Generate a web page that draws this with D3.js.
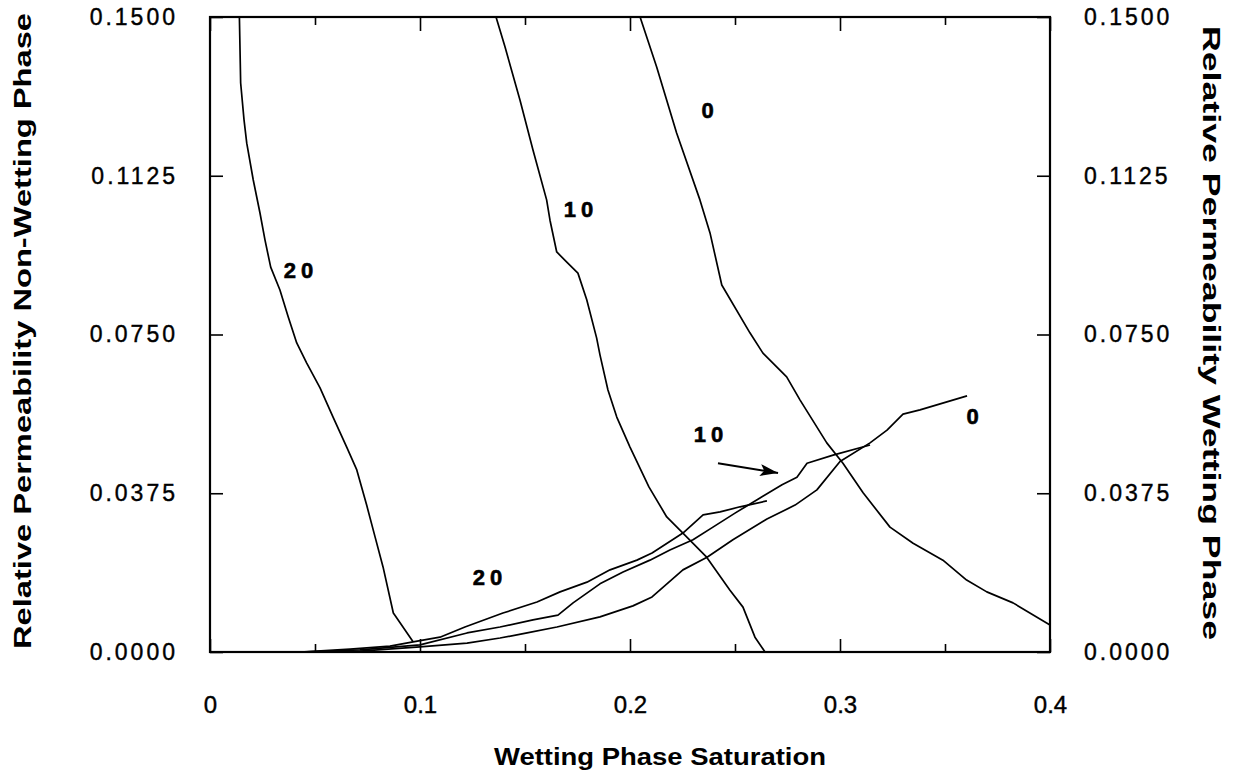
<!DOCTYPE html>
<html>
<head>
<meta charset="utf-8">
<script src="https://cdn.jsdelivr.net/npm/d3@7"></script>
<style>
  html, body { margin: 0; padding: 0; background: #fff; }
  svg { display: block; }
  text { font-family: "Liberation Sans", Arial, Helvetica, sans-serif; fill: #000; }
</style>
</head>
<body>
<svg id="chart" width="1240" height="774"></svg>
<script>
// ---- Data (Sw, kr) ----
const xTicksMajor = [0, 0.1, 0.2, 0.3, 0.4];
const xTickLabels = ["0", "0.1", "0.2", "0.3", "0.4"];
const xTicksMinor = [0.05, 0.15, 0.25, 0.35];
const yTicks = [0, 0.0375, 0.075, 0.1125, 0.15];
const yTickLabels = ["0.0000", "0.0375", "0.0750", "0.1125", "0.1500"];

// Non-wetting phase relative permeability (left axis)
const nw20 = [[0.0140,0.15],[0.0146,0.1344],[0.0162,0.1257],[0.0175,0.1202],[0.0206,0.1115],[0.0238,0.1037],[0.0262,0.0973],[0.0289,0.0909],[0.0333,0.0855],[0.0373,0.0791],[0.0413,0.0730],[0.0460,0.0683],[0.0524,0.0624],[0.0586,0.0555],[0.0651,0.0484],[0.0699,0.0430],[0.0746,0.0347],[0.0786,0.0272],[0.0824,0.0201],[0.0873,0.0092],[0.0905,0.0069],[0.0967,0.0024]];
const nw10 = [[0.1362,0.15],[0.1405,0.1429],[0.1476,0.1304],[0.1538,0.1186],[0.1603,0.1068],[0.1619,0.1020],[0.1651,0.0945],[0.1699,0.0921],[0.1752,0.0895],[0.1794,0.0832],[0.1841,0.0742],[0.1857,0.0702],[0.1895,0.0619],[0.1937,0.0555],[0.2000,0.0484],[0.2090,0.0390],[0.2175,0.0319],[0.2252,0.0281],[0.2365,0.0224],[0.2476,0.0146],[0.2538,0.0106],[0.2595,0.0035],[0.2643,0.0]];
const nw0 = [[0.2048,0.15],[0.2127,0.1382],[0.2222,0.1226],[0.2333,0.1068],[0.2381,0.0990],[0.2437,0.0867],[0.2571,0.0754],[0.2633,0.0706],[0.2746,0.0650],[0.2810,0.0595],[0.2937,0.0494],[0.3014,0.0446],[0.3110,0.0376],[0.3238,0.0295],[0.3348,0.0257],[0.3490,0.0217],[0.3603,0.0170],[0.3699,0.0142],[0.3824,0.0116],[0.4000,0.0064]];

// Wetting phase relative permeability (right axis)
const w20 = [[0.0429,0.0],[0.0667,0.0007],[0.0857,0.0014],[0.0967,0.0024],[0.1095,0.0035],[0.1214,0.0059],[0.1395,0.0092],[0.1557,0.0118],[0.1667,0.0142],[0.1795,0.0165],[0.1905,0.0194],[0.2033,0.0217],[0.2105,0.0234],[0.2252,0.0281],[0.2348,0.0324],[0.2429,0.0331],[0.2524,0.0343],[0.2652,0.0357]];
const w10 = [[0.0429,0.0],[0.0714,0.0005],[0.1000,0.0017],[0.1224,0.0045],[0.1381,0.0059],[0.1538,0.0076],[0.1657,0.0087],[0.1729,0.0116],[0.1857,0.0161],[0.1967,0.0189],[0.2095,0.0217],[0.2190,0.0241],[0.2300,0.0265],[0.2395,0.0295],[0.2500,0.0328],[0.2619,0.0364],[0.2724,0.0395],[0.2795,0.0413],[0.2843,0.0446],[0.2967,0.0465],[0.3143,0.0489]];
const w0 = [[0.0429,0.0],[0.0714,0.0002],[0.1000,0.0012],[0.1224,0.0021],[0.1381,0.0033],[0.1510,0.0045],[0.1652,0.0059],[0.1857,0.0083],[0.2014,0.0109],[0.2105,0.0130],[0.2252,0.0194],[0.2367,0.0224],[0.2490,0.0265],[0.2652,0.0314],[0.2786,0.0347],[0.2890,0.0383],[0.3000,0.0450],[0.3143,0.0494],[0.3224,0.0524],[0.3300,0.0562],[0.3381,0.0572],[0.3605,0.0605]];

// Curve labels: [text, Sw, kr]
const curveLabels = [["20",0.0433,0.0902],["10",0.1767,0.1046],["0",0.2381,0.1278],["20",0.1333,0.0175],["10",0.2386,0.0513],["0",0.3643,0.0557]];
const arrowFrom = [0.2419,0.0446];
const arrowTo = [0.2705,0.0423];

// ---- Layout ----
const svg = d3.select("#chart");
const L = 210, R = 1050, T = 17, B = 652;
const x = d3.scaleLinear().domain([0, 0.4]).range([L, R]);
const yL = d3.scaleLinear().domain([0, 0.15]).range([B, T]);
const yR = d3.scaleLinear().domain([0, 0.15]).range([B, T]);

// Frame
svg.append("rect").attr("x", L).attr("y", T).attr("width", R - L).attr("height", B - T)
  .attr("fill", "none").attr("stroke", "#000").attr("stroke-width", 2.2);

const tickFont = "'Liberation Sans', Arial, sans-serif";

// Bottom axis (inward ticks)
const axB = svg.append("g").attr("transform", `translate(0,${B})`)
  .call(d3.axisBottom(x).tickValues(xTicksMajor).tickSize(-13).tickPadding(44)
    .tickFormat((d, i) => xTickLabels[i]));
axB.select(".domain").remove();
axB.selectAll("line").attr("stroke-width", 1.6);
axB.selectAll("text").attr("font-size", 24).attr("stroke", "#000").attr("stroke-width", 0.4)
  .style("font-family", tickFont);
const axBm = svg.append("g").attr("transform", `translate(0,${B})`)
  .call(d3.axisBottom(x).tickValues(xTicksMinor).tickSize(-8).tickFormat(""));
axBm.select(".domain").remove();
axBm.selectAll("line").attr("stroke-width", 1.6);

// Top axis
const axT = svg.append("g").attr("transform", `translate(0,${T})`)
  .call(d3.axisTop(x).tickValues(xTicksMajor).tickSize(-14).tickFormat(""));
axT.select(".domain").remove();
axT.selectAll("line").attr("stroke-width", 1.6);
const axTm = svg.append("g").attr("transform", `translate(0,${T})`)
  .call(d3.axisTop(x).tickValues(xTicksMinor).tickSize(-8).tickFormat(""));
axTm.select(".domain").remove();
axTm.selectAll("line").attr("stroke-width", 1.6);

// Left axis
const axLft = svg.append("g").attr("transform", `translate(${L},0)`)
  .call(d3.axisLeft(yL).tickValues(yTicks).tickSize(-13).tickPadding(32)
    .tickFormat((d, i) => yTickLabels[i]));
axLft.select(".domain").remove();
axLft.selectAll("line").attr("stroke-width", 1.6);
axLft.selectAll("text").attr("font-size", 23).attr("stroke", "#000").attr("stroke-width", 0.4)
  .style("letter-spacing", "3px").style("font-family", tickFont);

// Right axis
const axRgt = svg.append("g").attr("transform", `translate(${R},0)`)
  .call(d3.axisRight(yR).tickValues(yTicks).tickSize(-13).tickPadding(34)
    .tickFormat((d, i) => yTickLabels[i]));
axRgt.select(".domain").remove();
axRgt.selectAll("line").attr("stroke-width", 1.6);
axRgt.selectAll("text").attr("font-size", 23).attr("stroke", "#000").attr("stroke-width", 0.4)
  .style("letter-spacing", "3px").style("font-family", tickFont);

// Curves
const lineL = d3.line().x(d => x(d[0])).y(d => yL(d[1]));
const lineR = d3.line().x(d => x(d[0])).y(d => yR(d[1]));
const plot = svg.append("g");
[nw20, nw10, nw0].forEach(s => plot.append("path").attr("d", lineL(s))
  .attr("fill", "none").attr("stroke", "#000").attr("stroke-width", 1.7).attr("stroke-linejoin", "round"));
[w20, w10, w0].forEach(s => plot.append("path").attr("d", lineR(s))
  .attr("fill", "none").attr("stroke", "#000").attr("stroke-width", 1.7).attr("stroke-linejoin", "round"));

// Curve labels
svg.selectAll("text.clab").data(curveLabels).enter().append("text")
  .attr("class", "clab")
  .attr("x", d => x(d[1])).attr("y", d => yL(d[2]))
  .attr("text-anchor", "middle").attr("dominant-baseline", "central")
  .attr("font-size", 22).attr("font-weight", "bold")
  .attr("stroke", "#000").attr("stroke-width", 0.6)
  .style("letter-spacing", "5px")
  .text(d => d[0]);

// Arrow
const defs = svg.append("defs");
defs.append("marker").attr("id", "arrowhead").attr("viewBox", "0 0 18 12")
  .attr("refX", 18).attr("refY", 6).attr("markerWidth", 18).attr("markerHeight", 12)
  .attr("markerUnits", "userSpaceOnUse").attr("orient", "auto")
  .append("path").attr("d", "M0,0 L18,6 L0,12 L4,6 Z").attr("fill", "#000");
svg.append("line")
  .attr("x1", x(arrowFrom[0])).attr("y1", yR(arrowFrom[1]))
  .attr("x2", x(arrowTo[0])).attr("y2", yR(arrowTo[1]))
  .attr("stroke", "#000").attr("stroke-width", 2).attr("marker-end", "url(#arrowhead)");

// Axis titles
svg.append("text").attr("x", 660).attr("y", 765).attr("text-anchor", "middle")
  .attr("font-size", 23).attr("font-weight", "bold")
  .attr("textLength", 332).attr("lengthAdjust", "spacingAndGlyphs")
  .text("Wetting Phase Saturation");
svg.append("text").attr("transform", `translate(31,331) rotate(-90)`).attr("text-anchor", "middle")
  .attr("font-size", 23).attr("font-weight", "bold")
  .attr("textLength", 636).attr("lengthAdjust", "spacingAndGlyphs")
  .text("Relative Permeability Non-Wetting Phase");
svg.append("text").attr("transform", `translate(1203,333) rotate(90)`).attr("text-anchor", "middle")
  .attr("font-size", 23).attr("font-weight", "bold")
  .attr("textLength", 614).attr("lengthAdjust", "spacingAndGlyphs")
  .text("Relative Permeability Wetting Phase");
</script>
</body>
</html>
